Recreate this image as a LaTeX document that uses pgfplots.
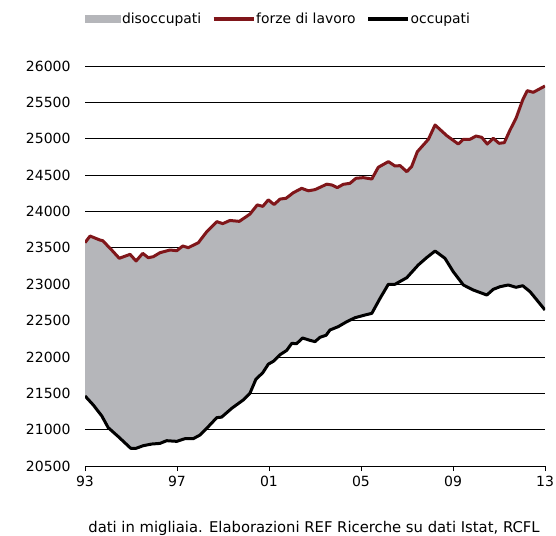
\documentclass[border=0pt]{standalone}
\usepackage{fontspec}
\setmainfont{DejaVu Sans}
\usepackage{pgfplots}
\pgfplotsset{compat=1.18}
\usepgfplotslibrary{fillbetween}
\usepackage{pgfplotstable}

\definecolor{areagray}{RGB}{181,182,186}
\definecolor{forzered}{RGB}{128,22,26}

% forze di lavoro (migliaia)
\pgfplotstableread{
x y
1993.00 23571
1993.22 23662
1993.65 23607
1993.77 23598
1994.16 23470
1994.49 23356
1994.96 23410
1995.22 23319
1995.51 23424
1995.75 23364
1995.97 23378
1996.26 23433
1996.70 23470
1996.99 23460
1997.25 23525
1997.49 23502
1997.93 23571
1998.29 23720
1998.73 23860
1998.99 23833
1999.30 23876
1999.71 23864
2000.17 23963
2000.49 24090
2000.73 24070
2000.97 24160
2001.22 24095
2001.48 24170
2001.74 24181
2002.06 24258
2002.42 24318
2002.71 24284
2003.00 24300
2003.22 24332
2003.51 24375
2003.73 24364
2003.97 24328
2004.23 24373
2004.52 24387
2004.78 24456
2005.10 24465
2005.47 24446
2005.75 24607
2006.19 24685
2006.48 24625
2006.70 24630
2006.99 24547
2007.20 24616
2007.45 24822
2007.93 24992
2008.22 25189
2008.73 25042
2009.23 24927
2009.45 24992
2009.74 24992
2010.00 25037
2010.25 25019
2010.49 24927
2010.75 25006
2011.00 24937
2011.23 24946
2011.48 25120
2011.74 25281
2012.03 25533
2012.23 25661
2012.49 25638
2013.00 25725
}\forze

% occupati (migliaia)
\pgfplotstableread{
x y
1993.00 21463
1993.36 21339
1993.73 21188
1994.01 21027
1994.45 20903
1994.99 20743
1995.22 20743
1995.53 20779
1995.90 20802
1996.26 20811
1996.55 20848
1996.99 20839
1997.35 20876
1997.71 20876
1998.00 20926
1998.36 21041
1998.73 21165
1998.94 21172
1999.38 21293
1999.88 21408
2000.17 21500
2000.43 21692
2000.73 21783
2000.97 21900
2001.19 21940
2001.48 22030
2001.77 22090
2001.99 22186
2002.20 22182
2002.46 22260
2002.78 22228
2003.00 22210
2003.22 22270
2003.48 22297
2003.65 22370
2004.01 22416
2004.38 22484
2004.74 22539
2005.17 22576
2005.47 22599
2005.83 22806
2006.19 22999
2006.48 22999
2006.99 23089
2007.49 23264
2007.85 23364
2008.22 23456
2008.65 23356
2009.01 23172
2009.45 22989
2009.88 22920
2010.47 22851
2010.75 22929
2011.04 22965
2011.40 22989
2011.74 22957
2012.03 22979
2012.35 22897
2013.00 22645
}\occupati

\begin{document}
\begin{tikzpicture}
\begin{axis}[
  at={(0,0)}, anchor=south west,
  scale only axis,
  width=460bp, height=400bp,
  xmin=1993, xmax=2013,
  ymin=20500, ymax=26000,
  xtick={1993,1997,2001,2005,2009,2013},
  xticklabels={93,97,01,05,09,13},
  ytick={20500,21000,...,26000},
  scaled ticks=false,
  yticklabel style={/pgf/number format/fixed, /pgf/number format/1000 sep={}},
  /pgf/number format/assume math mode=true,
  ticklabel style={font=\fontsize{14bp}{16bp}\selectfont},
  yticklabel style={xshift=-6bp},
  xticklabel style={yshift=-2bp},
  axis x line*=bottom,
  axis y line*=left,
  y axis line style={draw=none},
  x axis line style={line width=0.8bp},
  xtick pos=bottom,
  tick align=outside,
  major tick length=5bp,
  xtick style={line width=0.8bp, black},
  ytick style={draw=none},
  ymajorgrids,
  grid style={black, line width=0.7bp},
  legend columns=3,
  legend style={at={(0.4196,1.1175)}, anchor=center, draw=none,
    font=\fontsize{13.9bp}{16bp}\selectfont,
    nodes={inner xsep=1bp},
    /tikz/every even column/.append style={column sep=10bp},
    inner sep=0pt},
  legend cell align=left,
]
\addplot[name path=fl, draw=none, forget plot] table[x=x,y=y]{\forze};
\addplot[name path=oc, draw=none, forget plot] table[x=x,y=y]{\occupati};
\addplot[fill=areagray, draw=none, area legend,
  legend image code/.code={\fill[areagray] (0bp,-3.5bp) rectangle (36bp,3.5bp);}]
  fill between[of=fl and oc];
\addlegendentry{disoccupati}
\addplot[forzered, line width=3bp, line join=round,
  legend image code/.code={\draw[forzered, line width=3bp] (0bp,0bp) -- (40bp,0bp);}]
  table[x=x,y=y]{\forze};
\addlegendentry{forze di lavoro}
\addplot[black, line width=3bp, line join=round,
  legend image code/.code={\draw[black, line width=3bp] (0bp,0bp) -- (40bp,0bp);}]
  table[x=x,y=y]{\occupati};
\addlegendentry{occupati}
\end{axis}
\node[font=\fontsize{14.8bp}{18bp}\selectfont, anchor=base, inner sep=0pt] at (229bp,-66bp)
  {dati in migliaia. Elaborazioni REF Ricerche su dati Istat, RCFL};
\pgfresetboundingbox
\path[use as bounding box] (-85bp,-70bp) rectangle (471bp,466bp);
\end{tikzpicture}
\end{document}
